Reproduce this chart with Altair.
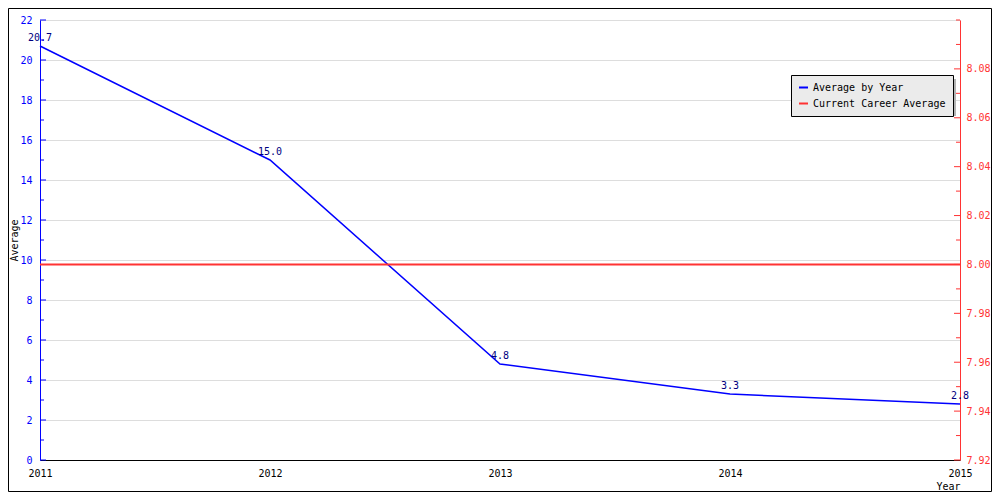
import altair as alt
import pandas as pd

years = [2011, 2012, 2013, 2014, 2015]
averages = [20.7, 15.0, 4.8, 3.3, 2.8]
career_average = [8.00]
series_names = ["Average by Year", "Current Career Average"]
series_colors = ["#0000ff", "#ff3333"]

left_major = [0, 2, 4, 6, 8, 10, 12, 14, 16, 18, 20, 22]
left_minor = [1, 3, 5, 7, 9, 11, 13, 15, 17, 19, 21]
right_major = [7.92, 7.94, 7.96, 7.98, 8.00, 8.02, 8.04, 8.06, 8.08]
right_minor = [7.93, 7.95, 7.97, 7.99, 8.01, 8.03, 8.05, 8.07, 8.09, 8.10]
x_ticks = [2011, 2012, 2013, 2014, 2015]

FONT = "DejaVu Sans Mono"
W, H = 920, 440

df_line = pd.DataFrame({"Year": years, "v": averages, "series": series_names[0]})
df_career = pd.DataFrame({"v": career_average, "series": series_names[1]})

color_scale = alt.Scale(domain=series_names, range=series_colors)
legend = alt.Legend(
    orient="none", legendX=751, legendY=55, title=None,
    fillColor="#ebebeb", strokeColor="black", padding=7,
    symbolType="stroke", symbolStrokeWidth=2, symbolSize=81,
    labelFont=FONT, labelFontSize=10, labelColor="black",
    labelOffset=4, rowPadding=5,
)
color_enc = alt.Color("series:N", scale=color_scale, legend=legend)

left_scale = alt.Scale(domain=[0, 22], nice=False, zero=False)
left_axis = alt.Axis(
    values=left_major, format="d", orient="left",
    labelColor="#0000ff", labelFont=FONT, labelFontSize=10, labelPadding=8,
    tickSize=0, domainColor="#0000ff", domainWidth=1,
    grid=True, gridColor="#dddddd", gridWidth=1,
    title="Average", titleFont=FONT, titleFontSize=10, titleFontWeight="normal",
    titleColor="black", titleX=-26, titleY=H / 2, titleAngle=-90,
    titleBaseline="middle", titleAlign="center",
)
y_left = alt.Y("v:Q", scale=left_scale, axis=left_axis)

x_enc = alt.X(
    "Year:Q",
    scale=alt.Scale(domain=[2011, 2015], nice=False, zero=False),
    axis=alt.Axis(
        values=x_ticks, format="d", labelFont=FONT, labelFontSize=10,
        labelColor="black", labelPadding=8, tickSize=0, labelFlush=False,
        labelOverlap=False, domainColor="black", domainWidth=1, grid=False,
        title="Year", titleFont=FONT, titleFontSize=10, titleFontWeight="normal",
        titleColor="black", titleX=W, titleY=26, titleAlign="right",
        titleBaseline="middle", titleAnchor="end",
    ),
)

shadow = alt.Chart(alt.Data(values=[{}])).mark_rect(color="#b4b4b4").encode(
    x=alt.value(755), x2=alt.value(916), y=alt.value(59), y2=alt.value(96)
)

line = alt.Chart(df_line).mark_line(strokeWidth=1.5, clip=False).encode(
    x=x_enc, y=y_left, color=color_enc
)
labels = alt.Chart(df_line).mark_text(
    font=FONT, fontSize=10, color="#000080", baseline="bottom", dy=-3, align="center"
).encode(x=x_enc, y=y_left, text=alt.Text("v:Q", format=".1f"))

lmaj = alt.Chart(pd.DataFrame({"v": left_major})).mark_rule(color="#0000ff", strokeWidth=1).encode(
    y=y_left, x=alt.value(0), x2=alt.value(6)
)
lmin = alt.Chart(pd.DataFrame({"v": left_minor})).mark_rule(color="#0000ff", strokeWidth=1).encode(
    y=y_left, x=alt.value(0), x2=alt.value(4)
)

left = alt.layer(shadow, line, labels, lmaj, lmin)

right_scale = alt.Scale(domain=[7.92, 8.10], nice=False, zero=False)
right_axis = alt.Axis(
    values=right_major, format=".2f", orient="right",
    labelColor="#ff3333", labelFont=FONT, labelFontSize=10, labelPadding=6,
    tickSize=0, domainColor="#ff3333", domainWidth=1, grid=False, title=None,
    labelFlush=False,
)
y_right = alt.Y("v:Q", scale=right_scale, axis=right_axis)

career = alt.Chart(df_career).mark_rule(strokeWidth=2).encode(y=y_right, color=color_enc)
rmaj = alt.Chart(pd.DataFrame({"v": right_major})).mark_rule(color="#ff3333", strokeWidth=1).encode(
    y=y_right, x=alt.value(W - 6), x2=alt.value(W)
)
rmin = alt.Chart(pd.DataFrame({"v": right_minor})).mark_rule(color="#ff3333", strokeWidth=1).encode(
    y=y_right, x=alt.value(W - 4), x2=alt.value(W)
)
right = alt.layer(career, rmaj, rmin)

border = alt.Chart(alt.Data(values=[{}])).mark_rect(
    fill=None, stroke="black", strokeWidth=1, clip=False
).encode(x=alt.value(-31.5), x2=alt.value(W + 31.5), y=alt.value(-11.5), y2=alt.value(H + 31.5))

chart = alt.layer(left, right, border).resolve_scale(y="independent").properties(
    width=W, height=H,
    autosize=alt.AutoSizeParams(type="none"),
    padding={"left": 32, "top": 12, "right": 32, "bottom": 32},
    background="white",
).configure_view(stroke=None).configure(font=FONT)

chart.save("out.html", embed_options={"renderer": "svg", "actions": False})
